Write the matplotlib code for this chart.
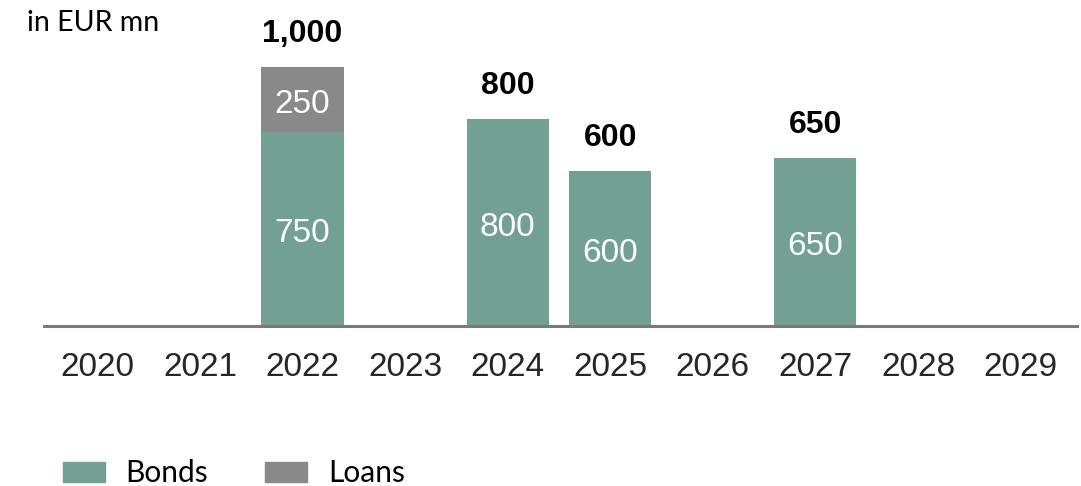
import numpy as np
import matplotlib.pyplot as plt
from matplotlib.patches import Patch

years = ['2020', '2021', '2022', '2023', '2024', '2025', '2026', '2027', '2028', '2029']
bonds = [0, 0, 750, 0, 800, 600, 0, 650, 0, 0]
loans = [0, 0, 250, 0, 0, 0, 0, 0, 0, 0]

BOND_COL = '#72a194'
LOAN_COL = '#898989'

fig = plt.figure(figsize=(10.81, 4.86), dpi=100)
ax = fig.add_axes([0.0407, 0.3292, 0.9556, 0.6661])

x = np.arange(len(years))
b = np.array(bonds)
l = np.array(loans)
ax.bar(x, b, width=0.8, color=BOND_COL)
ax.bar(x, l, width=0.8, bottom=b, color=LOAN_COL)

# segment labels
inner = dict(ha='center', va='center', color='white', fontsize=24,
             family='Liberation Sans', textcoords='offset points', xytext=(0, -3.5))
for i in range(len(years)):
    if b[i] > 0:
        ax.annotate(str(b[i]), (x[i], b[i] / 2), **inner)
    if l[i] > 0:
        ax.annotate(str(l[i]), (x[i], b[i] + l[i] / 2), **inner)
    tot = b[i] + l[i]
    if tot > 0:
        ax.annotate(f'{tot:,}', (x[i], tot), xytext=(0, 23.5), textcoords='offset points',
                    ha='center', va='center', fontsize=23, fontweight='bold',
                    family='Liberation Sans', color='black')

ax.set_xlim(-0.52, 9.55)
ax.set_ylim(0, 1250)
ax.set_xticks(x)
ax.set_xticklabels(years, fontsize=24, family='Liberation Sans', color='#262626')
ax.tick_params(axis='x', length=0, pad=19)
ax.set_yticks([])
for s in ['top', 'right', 'left']:
    ax.spines[s].set_visible(False)
ax.spines['bottom'].set_color('#7a7a7a')
ax.spines['bottom'].set_linewidth(2.2)

fig.text(27 / 1081, 1 - 23 / 486, 'in EUR mn', fontsize=20.5, family='Lato',
         ha='left', va='center', color='black')

handles = [Patch(color=BOND_COL, label='Bonds'), Patch(color=LOAN_COL, label='Loans')]
fig.legend(handles=handles, loc='lower left', bbox_to_anchor=(63 / 1081, -0.003),
           ncol=2, frameon=False, prop={'family': 'Lato', 'size': 21.5},
           borderpad=0, borderaxespad=0,
           handlelength=1.4, handleheight=0.7, handletextpad=0.7, columnspacing=1.9)

fig.savefig('out.png', dpi=100)
